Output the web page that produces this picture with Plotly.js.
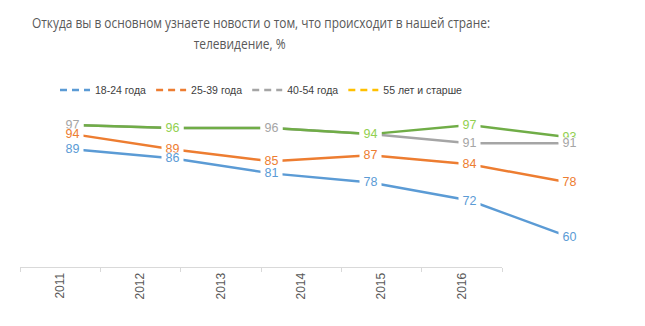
<!DOCTYPE html>
<html><head><meta charset="utf-8">
<script src="https://cdn.plot.ly/plotly-3.0.1.min.js"></script>
<style>html,body{margin:0;padding:0;background:#fff}</style>
</head><body><div id="chart" style="width:645px;height:326px"></div>
<script>
const years = ['2011','2012','2013','2014','2015','2016'];
const seriesNames = ['18-24 года','25-39 года','40-54 года','55 лет и старше'];
const v1824 = [89,86,81,78,72,60];
const v2539 = [94,89,85,87,84,78];
const v4054 = [97,96,96,94,91,91];
const v55plus = [97,96,96,94,97,93];
const titleLine1 = 'Откуда вы в основном узнаете новости о том, что происходит в нашей стране:';
const titleLine2 = 'телевидение, %';

const allValues = [v1824, v2539, v4054, v55plus];
const lineColors = ['#5B9BD5','#ED7D31','#A5A5A5','#70AD47'];
const legendColors = ['#5B9BD5','#ED7D31','#A5A5A5','#FFC000'];
const labelColors = ['#5B9BD5','#ED7D31','#A5A5A5','#92D050'];
// label stacking per year (last = drawn on top)
const labelOrder = [[3,2,1,0],[2,3,1,0],[3,2,1,0],[2,3,1,0],[3,2,1,0],[3,2,1,0]];

const TITLEF = '"Open Sans", "Liberation Sans", sans-serif';
const SANS = '"Liberation Sans", Arial, sans-serif';
const NB = '\u00a0';

const traces = [];
allValues.forEach((vals, s) => {
  traces.push({
    x: years, y: vals, type: 'scatter', mode: 'lines',
    line: {color: lineColors[s], width: 2.5},
    showlegend: false, hoverinfo: 'skip', xaxis: 'x', yaxis: 'y'
  });
});
seriesNames.forEach((name, s) => {
  traces.push({
    x: years, y: years.map(() => null), type: 'scatter', mode: 'lines', name: name,
    line: {color: legendColors[s], width: 2.5, dash: '7px,5px'},
    showlegend: true, hoverinfo: 'skip', xaxis: 'x', yaxis: 'y'
  });
});
// carrier for the category tick axis
traces.push({x: years, y: years.map(() => null), type: 'scatter', mode: 'lines',
  showlegend: false, hoverinfo: 'skip', xaxis: 'x2', yaxis: 'y'});

const annotations = [];
years.forEach((yr, i) => {
  labelOrder[i].forEach(s => {
    annotations.push({
      x: i, y: allValues[s][i], xref: 'x', yref: 'y', text: NB + allValues[s][i] + NB,
      showarrow: false, bgcolor: '#ffffff', borderpad: 0, height: 10,
      font: {family: SANS, size: 12.5, color: labelColors[s]}
    });
  });
});
annotations.push({
  xref: 'paper', yref: 'paper', x: (239-20)/600, y: (267-43)/151, xanchor: 'center', yanchor: 'middle',
  text: titleLine2, showarrow: false, font: {family: TITLEF, size: 15, color: '#595959'}
});

const layout = {
  width: 645, height: 326,
  margin: {l: 20, r: 25, t: 116, b: 59},
  paper_bgcolor: '#ffffff', plot_bgcolor: 'rgba(0,0,0,0)',
  title: {text: titleLine1, x: 261/645, xanchor: 'center', y: 1 - 23/326, yanchor: 'middle',
    font: {family: TITLEF, size: 15, color: '#595959'}},
  showlegend: true,
  legend: {orientation: 'h', x: (55-20)/600, xanchor: 'left', y: (267-90)/151, yanchor: 'middle',
    font: {family: SANS, size: 10.5, color: '#404040'}, itemwidth: 30, bgcolor: 'rgba(0,0,0,0)'},
  xaxis: {type: 'category', domain: [0, 1], range: [-0.534, 5.514], visible: false, fixedrange: true},
  xaxis2: {type: 'category', domain: [0, 482/600], anchor: 'y', range: [-0.5, 5.5],
    showline: true, linecolor: '#D9D9D9', linewidth: 1, ticks: 'outside', tickson: 'boundaries',
    ticklen: 4, tickcolor: '#D9D9D9', tickangle: -90, showgrid: false, zeroline: false,
    tickfont: {family: SANS, size: 12, color: '#595959'}, fixedrange: true},
  yaxis: {range: [50, 100], visible: false, showgrid: false, zeroline: false, fixedrange: true},
  annotations: annotations
};
Plotly.newPlot('chart', traces, layout, {displayModeBar: false, staticPlot: true}).then(gd => {
  // the reference title is horizontally condensed: fit the text to its measured widths
  const fit = (el, w) => { el.setAttribute('textLength', w); el.setAttribute('lengthAdjust', 'spacingAndGlyphs'); };
  const t = gd.querySelector('.gtitle');
  if (t) fit(t, 458);
  gd.querySelectorAll('.annotation-text').forEach(el => { if (el.textContent === titleLine2) fit(el, 92); });
});
</script></body></html>
